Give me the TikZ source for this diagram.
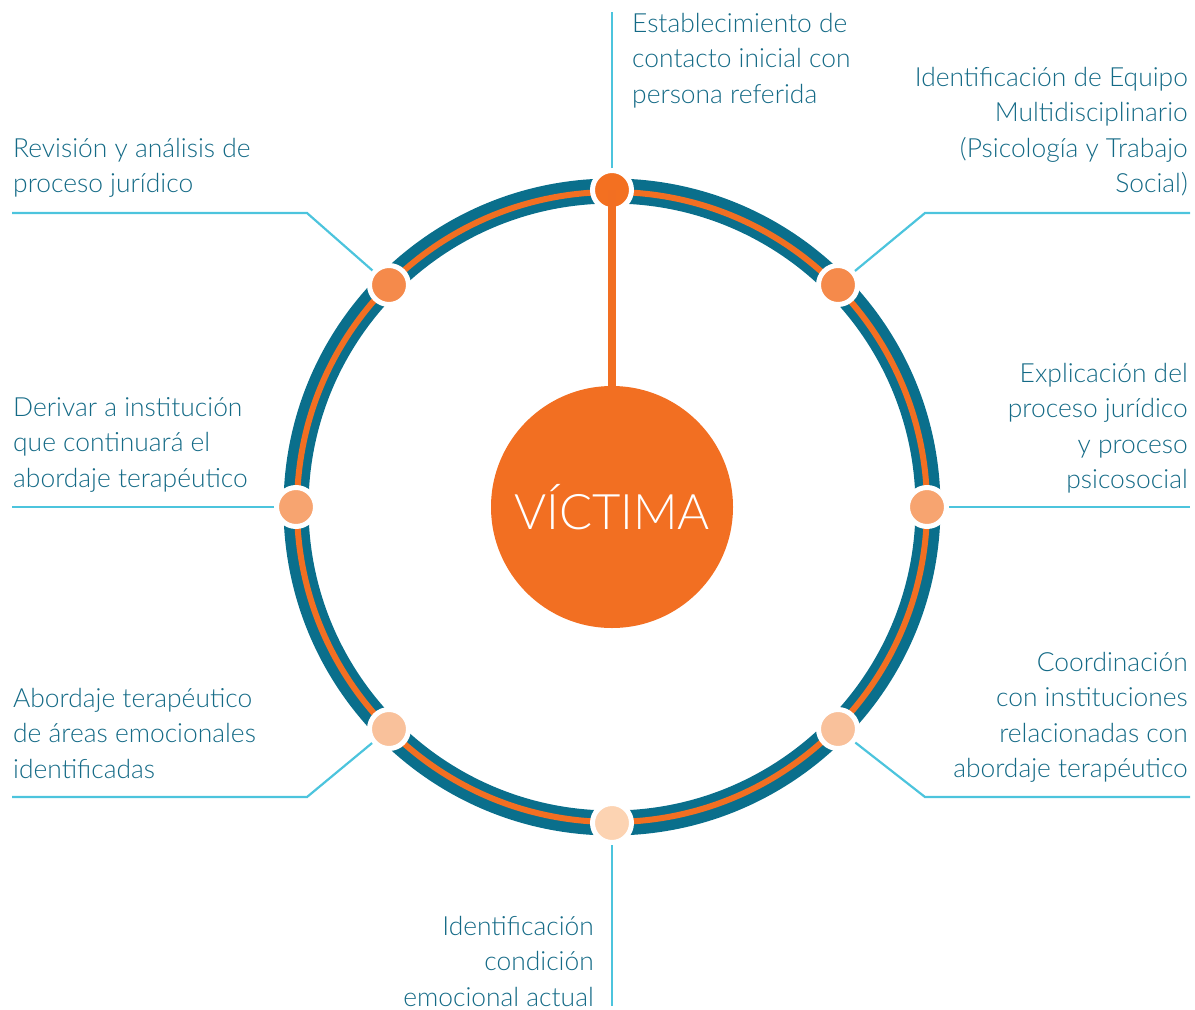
\documentclass[tikz,border=0pt]{standalone}
\usepackage{fontspec}
\setmainfont{Lato}[UprightFont=* Light]
\usepackage{xcolor}
\usetikzlibrary{positioning}

\definecolor{ringteal}{HTML}{0A6F8C}
\definecolor{txtteal}{HTML}{146A86}
\definecolor{vorange}{HTML}{F26F22}
\definecolor{linkblue}{HTML}{4CC4DD}
\definecolor{dotA}{HTML}{F37021}
\definecolor{dotB}{HTML}{F58A4B}
\definecolor{dotC}{HTML}{F7A470}
\definecolor{dotD}{HTML}{F9C19B}
\definecolor{dotE}{HTML}{FCD3B2}

\begin{document}
\begin{tikzpicture}[
    x=1pt, y=-1pt,
    step label/.style={
      text=txtteal, inner sep=0pt,
      font=\fontsize{26.4}{35.5}\selectfont
    },
    dot/.style={
      circle, draw=white, line width=5pt,
      minimum size=39pt, inner sep=0pt
    },
    link/.style={linkblue, line width=2.2pt}
]
\useasboundingbox (0,0) rectangle (1195,1010);

% --- Ring ---
\draw[ringteal, line width=25pt] (612,507) circle[radius=316];
\draw[vorange, line width=6pt] (612,507) circle[radius=315];

% --- Centre ---
\node[circle, fill=vorange, minimum size=242pt, inner sep=0pt,
      text=white, font=\fontsize{49}{54}\selectfont] (victima) at (612,507) {VÍCTIMA};

% --- Dots on the ring ---
\node[dot, fill=dotA] (d1) at (612,190) {};
\node[dot, fill=dotB] (d2) at (838,285) {};
\node[dot, fill=dotC] (d3) at (927,507) {};
\node[dot, fill=dotD] (d4) at (838,729) {};
\node[dot, fill=dotE] (d5) at (612,823) {};
\node[dot, fill=dotD] (d6) at (389,729) {};
\node[dot, fill=dotC] (d7) at (296,507) {};
\node[dot, fill=dotB] (d8) at (389,285) {};

\draw[vorange, line width=8pt] (d1.center) -- (victima);

% --- Line ends ---
\coordinate (t1) at (612,12);
\coordinate (b2) at (925,213);
\coordinate (e2) at (1190,213);
\coordinate (e3) at (1190,507);
\coordinate (b4) at (925,797);
\coordinate (e4) at (1190,797);
\coordinate (e5) at (612,1006);
\coordinate (b6) at (307,797);
\coordinate (e6) at (12,797);
\coordinate (e7) at (12,507);
\coordinate (b8) at (307,213);
\coordinate (e8) at (12,213);

\draw[link] (d1) -- (t1);
\draw[link] (d2) -- (b2) -- (e2);
\draw[link] (d3) -- (e3);
\draw[link] (d4) -- (b4) -- (e4);
\draw[link] (d5) -- (e5);
\draw[link] (d6) -- (b6) -- (e6);
\draw[link] (d7) -- (e7);
\draw[link] (d8) -- (b8) -- (e8);

% --- Labels ---
\node[step label, align=left, anchor=north west] (l1) at (632,13) {Establecimiento de\\contacto inicial con\\persona referida};
\node[step label, align=right, anchor=north east] (l2) at (1188,67) {Identificación de Equipo\\Multidisciplinario\\(Psicología y Trabajo\\Social)};
\node[step label, align=right, anchor=north east] (l3) at (1188,363) {Explicación del\\proceso jurídico\\y proceso\\psicosocial};
\node[step label, align=right, anchor=north east] (l4) at (1188,652) {Coordinación\\con instituciones\\relacionadas con\\abordaje terapéutico};
\node[step label, align=right, anchor=north east] (l5) at (594,916) {Identificación\\condición\\emocional actual};
\node[step label, align=left, anchor=north west] (l6) at (13,688) {Abordaje terapéutico\\de áreas emocionales\\identificadas};
\node[step label, align=left, anchor=north west] (l7) at (13,397) {Derivar a institución\\que continuará el\\abordaje terapéutico};
\node[step label, align=left, anchor=north west] (l8) at (13,138) {Revisión y análisis de\\proceso jurídico};

\end{tikzpicture}
\end{document}
